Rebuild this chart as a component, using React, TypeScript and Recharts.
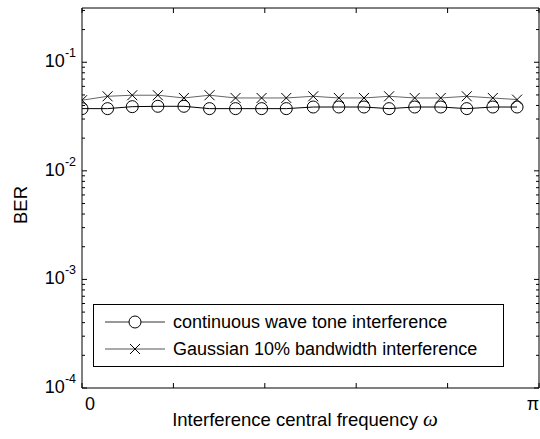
import {Legend, Line, LineChart, ReferenceLine, XAxis, YAxis} from "recharts";

// frequency in units of pi
const freq = [0, 0.056, 0.110, 0.166, 0.223, 0.279, 0.336, 0.393, 0.447, 0.506, 0.562, 0.617, 0.672, 0.728, 0.785, 0.842, 0.899, 0.952];
const cwTone = [0.0374, 0.0374, 0.0390, 0.0393, 0.0393, 0.0374, 0.0374, 0.0374, 0.0374, 0.0387, 0.0387, 0.0387, 0.0374, 0.0387, 0.0387, 0.0374, 0.0387, 0.0387];
const gauss10 = [0.0447, 0.0486, 0.0497, 0.0497, 0.0469, 0.0497, 0.0469, 0.0469, 0.0469, 0.0486, 0.0469, 0.0469, 0.0486, 0.0469, 0.0469, 0.0486, 0.0469, 0.0453];

const xTicks = [0, 0.2, 0.4, 0.6, 0.8, 1];
const xTickLabels: Record<number, string> = {0: "0", 1: "π"};
const yMajor = [1e-4, 1e-3, 1e-2, 1e-1];
const yMajorLabels = ["-4", "-3", "-2", "-1"];
const yMinor = [2, 3, 4, 5, 6, 7, 8, 9];
const yTop = 0.316;

const yTicks: number[] = [];
yMajor.forEach(m => {
    yTicks.push(m);
    yMinor.forEach(k => {
        if (k * m < yTop) yTicks.push(k * m);
    });
});

const data = freq.map((f, i) => ({f, cw: cwTone[i], g: gauss10[i]}));

const FONT = "'Liberation Sans', Arial, sans-serif";
const W = 540, H = 439;
const LEFT = 82, TOP = 8, BOTTOM = 51;
const PLOT_W = W - LEFT - 1;
const PLOT_H = H - TOP - BOTTOM;

const majorIndex = (v: number) => yMajor.findIndex(m => Math.abs(v - m) / m < 1e-6);

const LeftTick = ({x, y, payload}: any) => {
    const idx = majorIndex(payload.value);
    const len = idx >= 0 ? 5 : 3;
    return <g>
        <line x1={x} x2={x + len} y1={y} y2={y} stroke="#000"/>
        <line x1={x + PLOT_W} x2={x + PLOT_W - len} y1={y} y2={y} stroke="#000"/>
        {idx >= 0 && <text x={x - 6} y={y + 5} textAnchor="end" fontSize={18} fontFamily={FONT} fill="#000">
            10<tspan fontSize={12.5} dy={-10}>{yMajorLabels[idx]}</tspan>
        </text>}
    </g>;
};

const BottomTick = ({x, y, payload}: any) => {
    const label = xTickLabels[payload.value];
    return <g>
        <line x1={x} x2={x} y1={y} y2={y - 5} stroke="#000"/>
        <line x1={x} x2={x} y1={y - PLOT_H} y2={y - PLOT_H + 5} stroke="#000"/>
        {label && <text x={payload.value === 0 ? x + 8 : x - 6} y={y + 22} textAnchor="middle" fontSize={18}
                        fontFamily={FONT} fill="#000">{label}</text>}
    </g>;
};

const Circle = ({cx, cy, index}: any) =>
    <circle key={"c" + index} cx={cx} cy={cy} r={6} fill="none" stroke="#000" strokeWidth={1}/>;

const Cross = ({cx, cy, index}: any) =>
    <path key={"x" + index} d={`M${cx - 5},${cy - 5}L${cx + 5},${cy + 5}M${cx - 5},${cy + 5}L${cx + 5},${cy - 5}`}
          stroke="#000" strokeWidth={1}/>;

const LegendBox = () => <svg width={411} height={63} style={{display: "block"}}>
    <rect x={0.5} y={0.5} width={410} height={62} fill="#fff" stroke="#000"/>
    <line x1={12} x2={72} y1={18} y2={18} stroke="#333"/>
    <circle cx={42} cy={18} r={6} fill="#fff" stroke="#000"/>
    <text x={80} y={24} fontSize={18} fontFamily={FONT} fill="#000">continuous wave tone interference</text>
    <line x1={12} x2={72} y1={45} y2={45} stroke="#555"/>
    <path d="M37,40L47,50M37,50L47,40" stroke="#000"/>
    <text x={80} y={51} fontSize={18} fontFamily={FONT} fill="#000">Gaussian 10% bandwidth interference</text>
</svg>;

export default function App() {
    return <div style={{position: "absolute", left: 0, top: 0, width: W, height: H, background: "#fff"}}>
        <LineChart width={W} height={H} data={data} margin={{top: TOP, right: 1, bottom: 0, left: 0}}
                   style={{fontFamily: FONT}}>
            <XAxis dataKey="f" type="number" domain={[0, 1]} allowDataOverflow ticks={xTicks} interval={0}
                   height={BOTTOM} tickSize={0} tickMargin={0} tick={<BottomTick/>} stroke="#000"
                   label={() => <text x={305} y={426} textAnchor="middle" fontSize={18.5} fontFamily={FONT} fill="#000">
                       Interference central frequency <tspan fontFamily="'Liberation Serif', serif" fontStyle="italic"
                                                              fontSize={21}>ω</tspan>
                   </text>}/>
            <YAxis scale="log" type="number" domain={[1e-4, yTop]} allowDataOverflow ticks={yTicks} interval={0}
                   width={LEFT} tickSize={0} tickMargin={0} tick={<LeftTick/>} stroke="#000"
                   label={() => <text x={27} y={205} transform="rotate(-90 27 205)" textAnchor="middle" fontSize={18.5}
                                      fontFamily={FONT} fill="#000">BER</text>}/>
            <ReferenceLine x={1} stroke="#000" ifOverflow="extendDomain"/>
            <ReferenceLine y={yTop} stroke="#000" ifOverflow="extendDomain"/>
            <Line dataKey="cw" stroke="#000" strokeWidth={1} dot={Circle} isAnimationActive={false}/>
            <Line dataKey="g" stroke="#666" strokeWidth={1} dot={Cross} isAnimationActive={false}/>
            <Legend layout="vertical" align="center" verticalAlign="middle" content={() => <LegendBox/>}
                    wrapperStyle={{left: 93, top: 304, width: 411, height: 63}}/>
        </LineChart>
    </div>;
}
